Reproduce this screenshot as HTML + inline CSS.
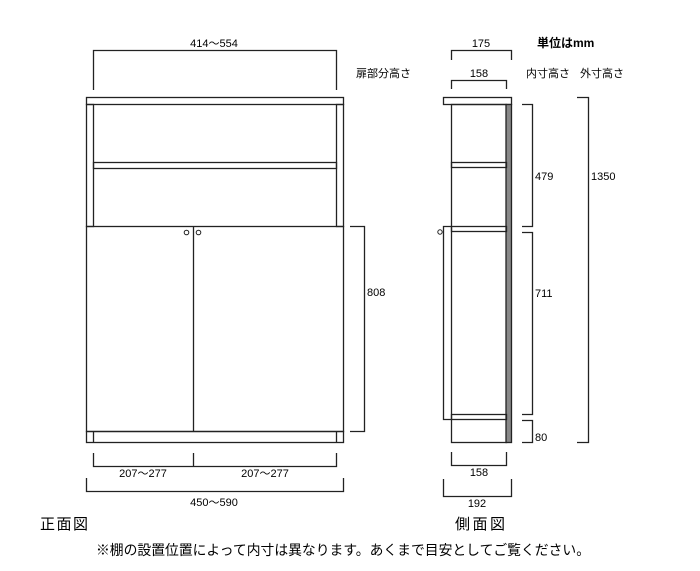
<!DOCTYPE html>
<html><head><meta charset="utf-8"><style>
html,body{margin:0;padding:0;background:#fff;}
svg{display:block;}
text{font-family:"Liberation Sans","Noto Sans CJK JP",sans-serif;fill:#000;}
</style></head><body>
<svg width="700" height="571" viewBox="0 0 700 571" xmlns="http://www.w3.org/2000/svg">
<g fill="none" stroke="#222" stroke-width="1.3">
<!-- Front view -->
<rect x="86.5" y="97.5" width="257" height="7"/>
<rect x="86.5" y="104.5" width="7" height="122"/>
<rect x="336.5" y="104.5" width="7" height="122"/>
<rect x="93.5" y="162.5" width="243" height="6"/>
<rect x="86.5" y="226.5" width="257" height="205"/>
<line x1="193.5" y1="226.5" x2="193.5" y2="431.5"/>
<rect x="86.5" y="431.5" width="257" height="11"/>
<line x1="93.5" y1="431.5" x2="93.5" y2="442.5"/>
<line x1="336.5" y1="431.5" x2="336.5" y2="442.5"/>
<circle cx="186.5" cy="232.5" r="2.3" stroke-width="1"/>
<circle cx="198.5" cy="232.5" r="2.3" stroke-width="1"/>
<!-- front dims -->
<polyline points="93.5,90 93.5,50.5 336.5,50.5 336.5,90"/>
<polyline points="350,226.5 364.5,226.5 364.5,431.5 350,431.5"/>
<polyline points="93.5,453 93.5,466.5 336.5,466.5 336.5,453"/>
<line x1="193.5" y1="453" x2="193.5" y2="466.5"/>
<polyline points="86.5,478 86.5,491.5 343.5,491.5 343.5,478"/>
<!-- Side view -->
<rect x="443.5" y="97.5" width="68" height="7"/>
<rect x="451.5" y="104.5" width="55" height="338"/>
<rect x="506" y="104.5" width="5.5" height="338" fill="#888"/>
<rect x="451.5" y="162.5" width="55" height="5"/>
<rect x="451.5" y="226.5" width="55" height="5"/>
<rect x="451.5" y="414.5" width="55" height="5"/>
<polyline points="451.5,226.5 443.5,226.5 443.5,419.5 451.5,419.5"/>
<circle cx="440" cy="232" r="2.2" stroke-width="1"/>
<!-- side dims -->
<polyline points="451.5,60 451.5,50.5 511.5,50.5 511.5,60"/>
<polyline points="451.5,89 451.5,80.5 506.5,80.5 506.5,89"/>
<polyline points="522,104.5 532.5,104.5 532.5,226.5 522,226.5"/>
<polyline points="522,232.5 532.5,232.5 532.5,414.5 522,414.5"/>
<polyline points="522,420.5 532.5,420.5 532.5,442.5 522,442.5"/>
<polyline points="577,97.5 588.5,97.5 588.5,442.5 577,442.5"/>
<polyline points="451.5,452 451.5,465.5 506.5,465.5 506.5,452"/>
<polyline points="443.5,479 443.5,496.5 511.5,496.5 511.5,479"/>
</g>
<g font-size="11">
<text x="214" y="47" text-anchor="middle">414～554</text>
<text x="356" y="77">扉部分高さ</text>
<text x="367" y="296">808</text>
<text x="143" y="477" text-anchor="middle">207～277</text>
<text x="265" y="477" text-anchor="middle">207～277</text>
<text x="214" y="506" text-anchor="middle">450～590</text>
<text x="481" y="47" text-anchor="middle">175</text>
<text x="479" y="77" text-anchor="middle">158</text>
<text x="526" y="77">内寸高さ</text>
<text x="580" y="77">外寸高さ</text>
<text x="535" y="180">479</text>
<text x="535" y="297">711</text>
<text x="535" y="441">80</text>
<text x="591" y="180">1350</text>
<text x="479" y="476" text-anchor="middle">158</text>
<text x="477" y="507" text-anchor="middle">192</text>
</g>
<text x="537" y="47" font-size="12" font-weight="bold">単位はmm</text>
<text x="40" y="529" font-size="15" textLength="48">正面図</text>
<text x="455" y="529" font-size="15" textLength="50">側面図</text>
<text x="96" y="555" font-size="14" textLength="494" lengthAdjust="spacingAndGlyphs">※棚の設置位置によって内寸は異なります。あくまで目安としてご覧ください。</text>
</svg>
</body></html>
